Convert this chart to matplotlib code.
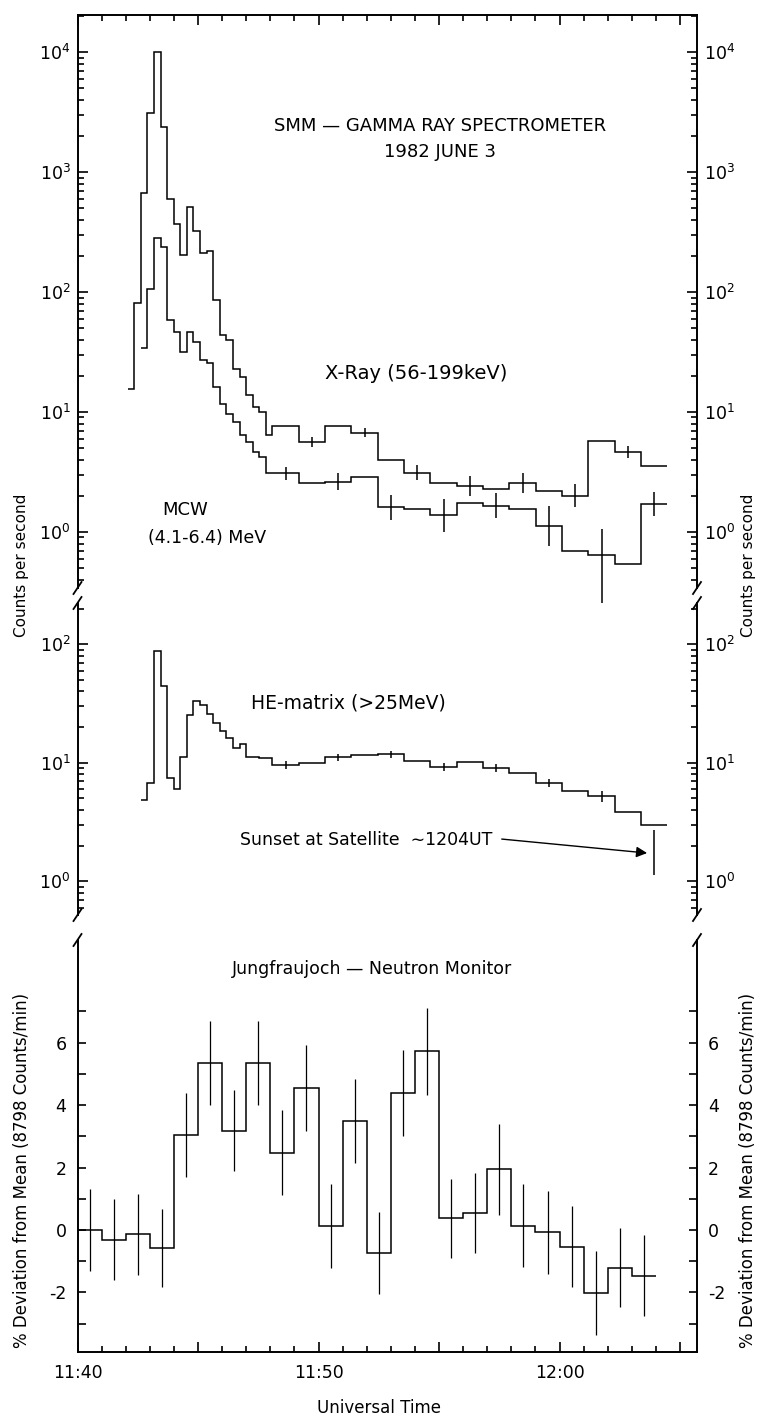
import numpy as np
import matplotlib
matplotlib.use("Agg")
import matplotlib.pyplot as plt
from matplotlib.ticker import MultipleLocator, FixedLocator, FuncFormatter
from matplotlib.transforms import ScaledTranslation

plt.rcParams["font.family"] = ["DejaVu Sans"]
plt.rcParams["axes.unicode_minus"] = False

# time axis: minutes after 11:40 UT
fine_start = 2.08
fine_width = 16.384 / 60.0      # 16 s accumulations near the flare peak
wide_width = 4 * fine_width     # 65 s accumulations afterwards

# SMM GRS count rates (counts/s), fine bins then wide bins
xray_fine = [15.5, 81, 668, 3100, 10000, 2370, 596, 369, 204, 510, 322, 211,
             219, 86, 44, 40, 23, 19.6, 13.9, 11.0, 10.0, 6.4]
xray_wide = [7.6, 5.6, 7.6, 6.7, 4.0, 3.1, 2.56, 2.4, 2.28, 2.56, 2.19, 2.0,
             5.7, 4.6, 3.55]
mcw_fine = [34, 106, 282, 238, 58, 46.5, 31.8, 46, 38.6, 27, 25.7, 16.3, 11.7,
            9.7, 8.3, 6.4, 5.65, 4.67, 4.24, 3.08]
mcw_wide = [3.08, 2.55, 2.63, 2.89, 1.6, 1.55, 1.38, 1.73, 1.65, 1.54, 1.12,
            0.69, 0.64, 0.54, 1.71]
he_fine = [4.84, 6.8, 88.5, 44.6, 7.5, 6.0, 11.2, 25.3, 33, 30.8, 25.7, 21.8,
           18.5, 16.3, 13.2, 14.4, 11.1, 11.1, 11.0, 11.0]
he_wide = [9.56, 9.9, 11.1, 11.6, 11.8, 10.4, 9.2, 10.2, 9.0, 8.2, 6.7, 5.8,
           5.2, 3.85, 2.97]

# error bars on the wide bins (index into the wide bins, low, high)
xray_eb_bins = [1, 3, 5, 7, 9, 11, 13]
xray_eb_lo = [5.1, 6.2, 2.7, 2.0, 2.1, 1.6, 4.1]
xray_eb_hi = [6.2, 7.3, 3.6, 2.9, 3.1, 2.5, 5.2]
mcw_eb_bins = [0, 2, 4, 6, 8, 10, 12, 14]
mcw_eb_lo = [2.7, 2.25, 1.25, 1.0, 1.3, 0.76, 0.18, 1.36]
mcw_eb_hi = [3.5, 3.1, 2.05, 1.9, 2.1, 1.65, 1.06, 2.15]
he_eb_bins = [0, 2, 4, 6, 8, 10, 12]
he_eb_lo = [8.9, 10.4, 11.0, 8.5, 8.3, 6.2, 4.7]
he_eb_hi = [10.3, 11.9, 12.6, 9.9, 9.8, 7.3, 5.8]
# last HE-matrix point before satellite sunset
sunset_lo, sunset_hi = 1.14, 2.7

# Jungfraujoch neutron monitor, 1-min values starting 11:40
neutron_dev = [0.0, -0.31, -0.14, -0.58, 3.05, 5.35, 3.18, 5.35, 2.48, 4.55,
               0.13, 3.5, -0.73, 4.38, 5.72, 0.37, 0.54, 1.94, 0.13, -0.07,
               -0.54, -2.03, -1.21, -1.47]
neutron_err = [1.32, 1.3, 1.3, 1.25, 1.35, 1.35, 1.3, 1.35, 1.35, 1.37, 1.35,
               1.35, 1.31, 1.38, 1.38, 1.27, 1.29, 1.45, 1.33, 1.33, 1.3, 1.35,
               1.27, 1.3]

time_ticks = [0, 10, 20]
time_labels = ["11:40", "11:50", "12:00"]

# bin edges
fine_edges = fine_start + fine_width * np.arange(len(xray_fine) + 1)
wide_left = fine_edges[-1] + wide_width * np.arange(len(xray_wide))
edges = np.concatenate([fine_edges, wide_left + wide_width])
wide_mid = wide_left + wide_width / 2
n_edges = np.arange(len(neutron_dev) + 1)
n_mid = n_edges[:-1] + 0.5

W, H = 770.0, 1418.0
fig = plt.figure(figsize=(W / 100, H / 100), dpi=100)


def rect(top, bottom):
    return [77.5 / W, 1 - bottom / H, (697 - 77.5) / W, (bottom - top) / H]


ax_top = fig.add_axes(rect(15, 588))
ax_mid = fig.add_axes(rect(603, 915))
ax_bot = fig.add_axes(rect(940, 1352))

lw = 1.1
ax_top.stairs(xray_fine + xray_wide, edges, baseline=None, color="k", lw=lw)
ax_top.stairs(mcw_fine + mcw_wide, edges[2:], baseline=None, color="k", lw=lw)
ax_top.vlines(wide_mid[xray_eb_bins], xray_eb_lo, xray_eb_hi, color="k", lw=lw)
ax_top.vlines(wide_mid[mcw_eb_bins], mcw_eb_lo, mcw_eb_hi, color="k", lw=lw,
              clip_on=False)

ax_mid.stairs(he_fine + he_wide, edges[2:], baseline=None, color="k", lw=lw)
ax_mid.vlines(wide_mid[he_eb_bins], he_eb_lo, he_eb_hi, color="k", lw=lw)
ax_mid.vlines(wide_mid[-1], sunset_lo, sunset_hi, color="k", lw=lw)

ax_bot.stairs(neutron_dev, n_edges, baseline=None, color="k", lw=lw)
ax_bot.vlines(n_mid, np.array(neutron_dev) - neutron_err,
              np.array(neutron_dev) + neutron_err, color="k", lw=0.9)

for ax in (ax_top, ax_mid):
    ax.set_yscale("log")
ax_top.set_ylim(0.341, 20400)
ax_mid.set_ylim(0.519, 223)
ax_bot.set_ylim(-3.91, 9.29)

for ax in (ax_top, ax_mid, ax_bot):
    ax.set_xlim(0, 25.7)
    ax.xaxis.set_major_locator(MultipleLocator(5))
    ax.xaxis.set_minor_locator(MultipleLocator(1))
    for s in ax.spines.values():
        s.set_linewidth(1.4)
    ax.tick_params(which="both", direction="in", width=1.2, labelsize=12.5,
                   left=True, right=True, labelleft=True, labelright=True,
                   top=False, bottom=False, labelbottom=False)
    ax.tick_params(which="major", length=7, pad=5)
    ax.tick_params(which="minor", length=4.5)

ax_top.spines["bottom"].set_visible(False)
ax_mid.spines["top"].set_visible(False)
ax_mid.spines["bottom"].set_visible(False)
ax_bot.spines["top"].set_visible(False)

ax_top.tick_params(axis="x", which="both", top=True)
ax_bot.tick_params(axis="x", which="both", bottom=True, labelbottom=True, pad=9)
ax_bot.xaxis.set_major_formatter(FuncFormatter(
    lambda v, p: dict(zip(time_ticks, time_labels)).get(int(round(v)), "")))

ax_bot.yaxis.set_major_locator(FixedLocator([-2, 0, 2, 4, 6]))
ax_bot.yaxis.set_minor_locator(FixedLocator([-3, -1, 1, 3, 5, 7]))
ax_bot.tick_params(axis="y", which="both", length=5.5, pad=8)

# first time label is nudged right of the spine
first_tick = ax_bot.xaxis.get_major_ticks()[0]
first_tick.label1.set_transform(first_tick.label1.get_transform()
                                + ScaledTranslation(0.16, 0, fig.dpi_scale_trans))

# axis breaks
for ax, ends in ((ax_top, [0]), (ax_mid, [0, 1]), (ax_bot, [1])):
    bb = ax.get_position()
    dx = 4 / (bb.width * W)
    dy = 6 / (bb.height * H)
    for x in (0, 1):
        for y in ends:
            ax.plot([x - dx, x + dx], [y - dy, y + dy], color="k", lw=1.3,
                    transform=ax.transAxes, clip_on=False)

# labels
ax_top.text(15.05, 2420, "SMM — GAMMA RAY SPECTROMETER", ha="center",
            va="center", fontsize=13)
ax_top.text(15.05, 1468, "1982 JUNE 3", ha="center", va="center", fontsize=13)
ax_top.text(14.05, 21, "X-Ray (56-199keV)", ha="center", va="center",
            fontsize=14)
ax_top.text(4.46, 1.52, "MCW", ha="center", va="center", fontsize=13)
ax_top.text(5.37, 0.89, "(4.1-6.4) MeV", ha="center", va="center",
            fontsize=12.5)

ax_mid.text(11.25, 31.9, "HE-matrix (>25MeV)", ha="center", va="center",
            fontsize=13.5)
ax_mid.text(6.74, 2.23, "Sunset at Satellite  ∼1204UT", ha="left",
            va="center", fontsize=12.5)
ax_mid.annotate("", xy=(23.63, 1.73), xytext=(17.6, 2.27),
                arrowprops=dict(arrowstyle="-|>", color="k", lw=1.0,
                                mutation_scale=16, shrinkA=0, shrinkB=0))

ax_bot.text(12.2, 8.37, "Jungfraujoch — Neutron Monitor", ha="center",
            va="center", fontsize=12.5)

for xp in (22, 748):
    fig.text(xp / W, 1 - 565 / H, "Counts per second", rotation=90,
             ha="center", va="center", fontsize=11)
    fig.text(xp / W, 1 - 1170 / H, "% Deviation from Mean (8798 Counts/min)",
             rotation=90, ha="center", va="center", fontsize=12)
fig.text(379 / W, 1 - 1408 / H, "Universal Time", ha="center", va="center",
         fontsize=12)

fig.savefig("out.png", dpi=100)
